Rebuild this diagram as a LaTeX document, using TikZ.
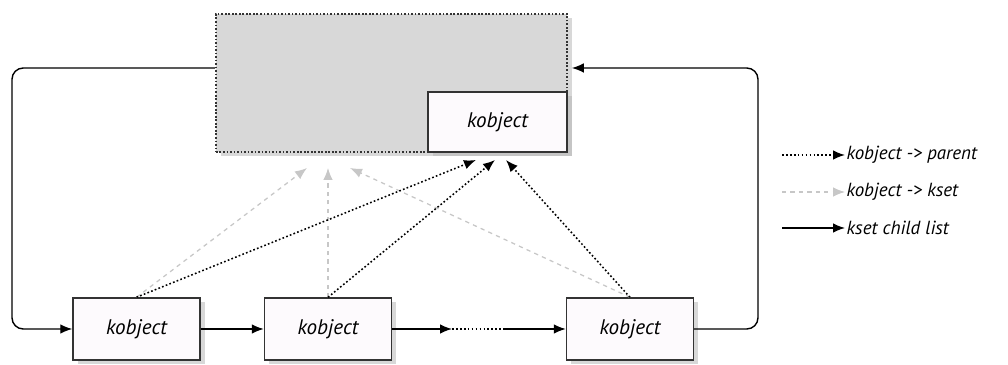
\documentclass[tikz,border=0pt]{standalone}
\usepackage{xcolor}
\usepackage{fontspec}
\setmainfont{PT Sans}
\usepackage{tikz}
\usetikzlibrary{shadows}
\usetikzlibrary {arrows.meta}

\definecolor{boxfill}{RGB}{253,250,253}
\definecolor{ksetfill}{RGB}{216,216,216}

\begin{document}
\begin{tikzpicture}[x=0.025cm, y=-0.025cm,
        every node/.style={font=\fontsize{15}{17}\selectfont\itshape},
        objbox/.style={draw=black!80, line width=1pt, fill=boxfill,
            minimum width=3.175cm, minimum height=1.55cm,
            drop shadow={shadow xshift=0.12cm, shadow yshift=-0.1cm, fill=black!30}},
        ksetbox/.style={draw=black!80, dash pattern=on 1.2pt off 1.3pt, line width=1.1pt, fill=ksetfill,
            minimum width=8.775cm, minimum height=3.45cm,
            drop shadow={shadow xshift=0.12cm, shadow yshift=-0.1cm, fill=black!30}},
        list/.style={-{Latex[length=3mm,width=2.4mm]}, line width=1pt, rounded corners=8pt},
        parent/.style={-{Latex[length=3mm,width=2.4mm]}, dash pattern=on 1.2pt off 1.6pt, line width=1.1pt},
        ksetlink/.style={-{Latex[length=3mm,width=2.4mm]}, dashed, black!22, line width=0.9pt},
        legend/.style={inner sep=1pt, font=\fontsize{13.5}{15}\selectfont\itshape}]
        \useasboundingbox (0,0) rectangle (1008,365);

        % The kset with its own kobject.
        \draw (391.5,83) node[ksetbox] (kset) {};
        \draw (kset.south east) node[objbox, anchor=south east, minimum width=3.475cm,
            minimum height=1.5cm] (k0) {kobject};

        % Children.
        \draw (136.5,329) node[objbox] (k1) {kobject};
        \draw (328,329) node[objbox] (k2) {kobject};
        \draw (630,329) node[objbox] (k3) {kobject};

        % Arrow targets below the kset.
        \coordinate (p1) at (476,160);
        \coordinate (p2) at (495,160);
        \coordinate (p3) at (506,160);
        \coordinate (s1) at (307,168);
        \coordinate (s2) at (328,168);
        \coordinate (s3) at (350,168);

        % kobject -> kset
        \draw[ksetlink] (k1.north) -- (s1);
        \draw[ksetlink] (k2.north) -- (s2);
        \draw[ksetlink] (k3.north) -- (s3);

        % kobject -> parent
        \draw[parent] (k1.north) -- (p1);
        \draw[parent] (k2.north) -- (p2);
        \draw[parent] (k3.north) -- (p3);

        % Child list.
        \coordinate (lft) at (12,329);
        \coordinate (rgt) at (758,68);
        \coordinate (gap1) at (452,329);
        \coordinate (gap2) at (503,329);
        \draw[list] ([yshift=0.375cm]kset.west) -| (lft) -- (k1);
        \draw[list] (k1) -- (k2);
        \draw[list] (k2) -- (gap1);
        \draw[dash pattern=on 1.2pt off 1.6pt, line width=1.1pt] (gap1) -- (gap2);
        \draw[list] (gap2) -- (k3);
        \draw[list] (k3.east) -| (rgt) -- ([yshift=0.375cm, xshift=0.1cm]kset.east);

        % Legend.
        \draw (845,155) node[legend, anchor=west] (lpar) {kobject -{}> parent};
        \draw (845,192) node[legend, anchor=west] (lkset) {kobject -{}> kset};
        \draw (845,228) node[legend, anchor=west] (llist) {kset child list};
        \coordinate (l1) at (782,155);
        \coordinate (l2) at (782,192);
        \coordinate (l3) at (782,228);
        \draw[parent] (l1) -- (lpar);
        \draw[ksetlink] (l2) -- (lkset);
        \draw[list] (l3) -- (llist);
    \end{tikzpicture}
\end{document}
